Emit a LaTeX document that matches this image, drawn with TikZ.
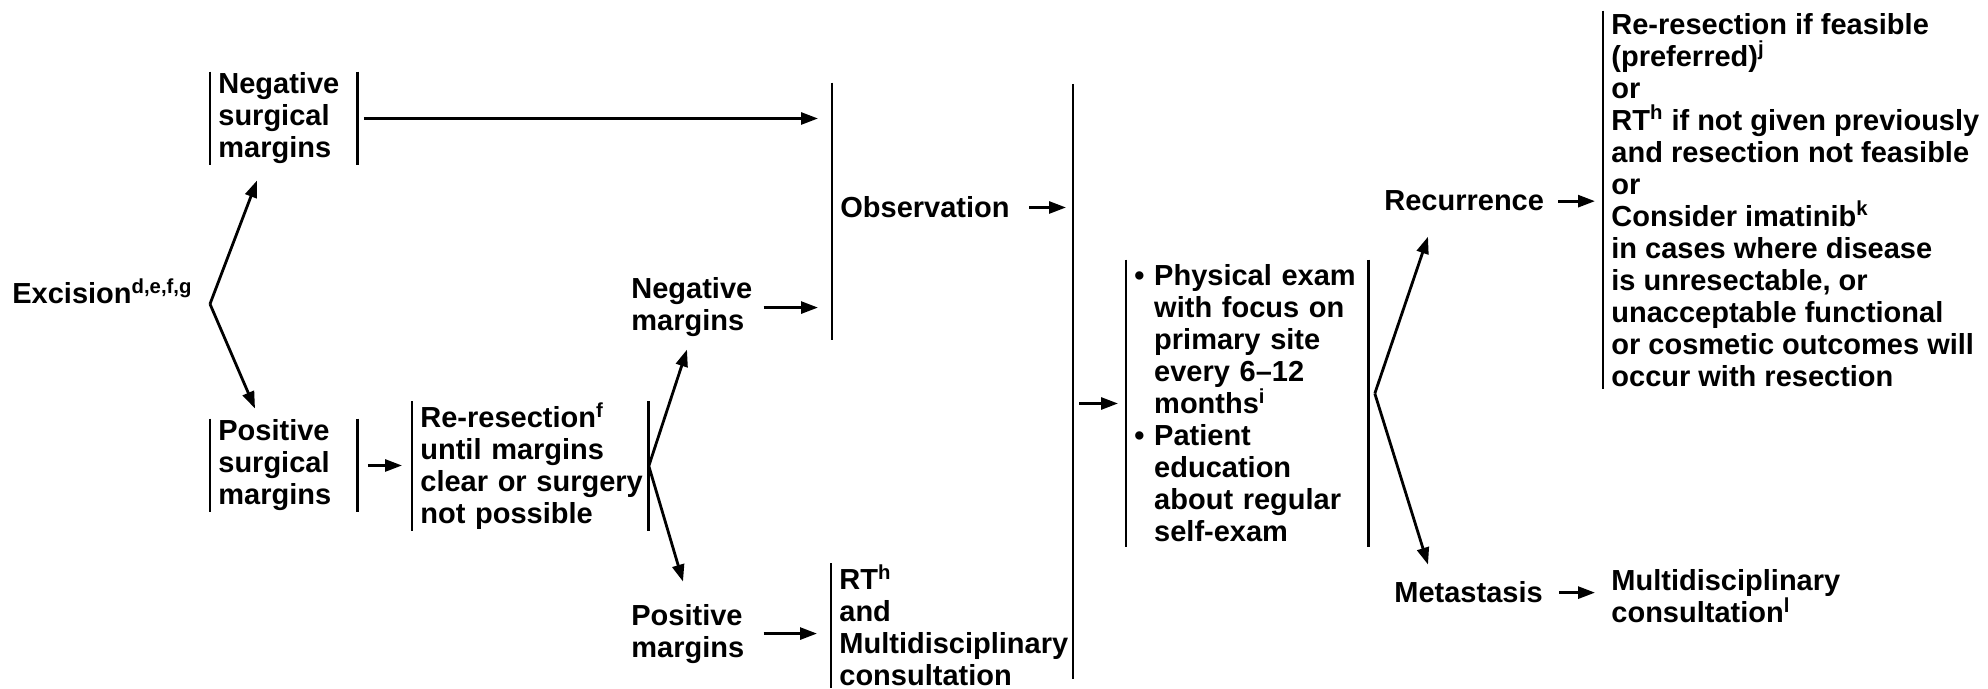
\documentclass[tikz,border=0pt]{standalone}
\usepackage{fontspec}
\setmainfont{Liberation Sans}
\usepackage{tikz}
\usetikzlibrary{arrows.meta,positioning,calc}

\begin{document}
\begin{tikzpicture}[x=0.5pt,y=-0.5pt,
  font=\fontsize{14.5}{16}\selectfont\bfseries,
  >={Triangle[length=8.5pt,width=6pt]},line width=1.4pt,
  txt/.style={inner sep=0pt,align=left,anchor=base west},
  bracket/.style={inner xsep=3.5pt,inner ysep=0pt,align=left,anchor=west,
    append after command={(\tikzlastnode.north west) edge[-] (\tikzlastnode.south west)}},
  bothbars/.style={bracket,
    append after command={(\tikzlastnode.north east) edge[-] (\tikzlastnode.south east)}}]
  \useasboundingbox (0,0) rectangle (1988,689);

  % left part: excision and margins
  \node[txt] (exc) at (11,304) {Excision\textsuperscript{d,e,f,g}};
  \node[bothbars,text width=65.5pt,minimum height=44.5pt] (negsurg) at (210,118.5) {Negative\\surgical\\margins};
  \node[bothbars,text width=65.5pt,minimum height=45.5pt] (possurg) at (210,465.5) {Positive\\surgical\\margins};
  \node[bothbars,text width=110pt,minimum height=61pt] (reres) at (412,466) {Re-resection\textsuperscript{f}\\until margins\\\mbox{clear or surgery}\\not possible};
  \node[txt] (negm) at (630,331) {Negative\\margins};
  \node[txt] (posm) at (630,657) {Positive\\margins};
  \coordinate (exc-fork) at (negsurg.west |- exc.base);
  \draw[->] (exc-fork) -- ($(negsurg.south west)+(47,15)$);
  \draw[->] (exc-fork) -- ($(possurg.north west)+(45,-10)$);
  \draw[->,shorten <=5pt] (possurg.east) -- ([xshift=-5pt]possurg.east -| reres.west);
  \draw[->] (reres.east) -- ($(negm.south west)+(57,11)$);
  \draw[->] (reres.east) -- ($(posm.north west)+(53,-21)$);

  % observation / RT
  \node[bracket,minimum height=127.5pt,text depth=5pt] (obs) at (832,211.5) {Observation};
  \node[bracket,minimum height=60.5pt] (rt) at (831,625.5) {RT\textsuperscript{h}\\and\\Multidisciplinary\\consultation};
  \draw[->,shorten <=3pt,shorten >=7pt] (negsurg.east) -- (negsurg.east -| obs.west);
  \draw[->,shorten <=5pt,shorten >=7pt] (negm.east) -- (negm.east -| obs.west);
  \draw[->,shorten >=7pt] ([xshift=5pt]negm.east |- posm.east) -- (posm.east -| rt.west);
  \coordinate (merge-top) at (1073,84);
  \coordinate (merge-bot) at (1073,679);
  \draw (merge-top) -- (merge-bot);
  \draw[->,shorten <=5.5pt,shorten >=3.5pt] ([yshift=2pt]obs.east) -- ([yshift=2pt]obs.east -| merge-top);

  % follow-up
  \node[bothbars,text width=113pt,minimum height=142.5pt] (fu) at (1126,403.5)
    {\textbullet\ Physical exam\\
     \phantom{\textbullet\ }with focus on\\
     \phantom{\textbullet\ }primary site\\
     \phantom{\textbullet\ }every 6--12\\
     \phantom{\textbullet\ }months\textsuperscript{i}\\
     \textbullet\ Patient\\
     \phantom{\textbullet\ }education\\
     \phantom{\textbullet\ }about regular\\
     \phantom{\textbullet\ }self-exam};
  \draw[->,shorten <=3pt,shorten >=4pt] (fu.west -| merge-top) -- (fu.west);

  % recurrence / metastasis
  \node[txt] (rec) at (1383,211) {Recurrence};
  \node[txt] (met) at (1393,603) {Metastasis};
  \coordinate (fu-fork) at ($(fu.east)+(6,-10)$);
  \draw[->] (fu-fork) -- ($(rec.south west)+(45,24)$);
  \draw[->] (fu-fork) -- ($(met.north west)+(35,-16)$);
  \node[bracket,minimum height=188pt] (recopt) at (1603,200)
    {Re-resection if feasible\\
     (preferred)\textsuperscript{j}\\
     or\\
     RT\textsuperscript{h} if not given previously\\
     and resection not feasible\\
     or\\
     Consider imatinib\textsuperscript{k}\\
     in cases where disease\\
     is unresectable, or\\
     unacceptable functional\\
     or cosmetic outcomes will\\
     occur with resection};
  \node[txt] (metopt) at (1610,623) {Multidisciplinary\\consultation\textsuperscript{l}};
  \draw[->,shorten <=6.5pt,shorten >=4pt] (rec.east) -- (rec.east -| recopt.west);
  \draw[->,shorten <=7.5pt,shorten >=7.5pt] (met.east) -- (met.east -| metopt.west);
\end{tikzpicture}
\end{document}
